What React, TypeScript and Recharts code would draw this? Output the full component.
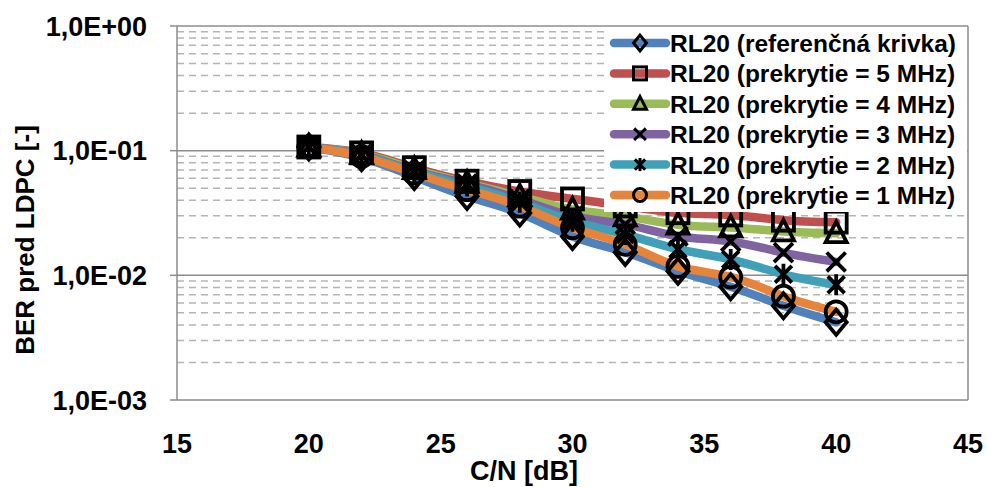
import React from 'react';
import { LineChart, Line, XAxis, YAxis, CartesianGrid } from 'recharts';

const cnValues = [20, 22, 24, 26, 28, 30, 32, 34, 36, 38, 40];
const berRef = [0.107, 0.088, 0.062, 0.043, 0.0316, 0.0205, 0.0153, 0.0108, 0.0081, 0.0057, 0.0042];
const berP5 = [0.107, 0.096, 0.073, 0.0569, 0.047, 0.041, 0.036, 0.0318, 0.0305, 0.0277, 0.0267];
const berP4 = [0.107, 0.094, 0.071, 0.055, 0.043, 0.0337, 0.0297, 0.0255, 0.0242, 0.0225, 0.0218];
const berP3 = [0.107, 0.093, 0.069, 0.054, 0.0407, 0.0298, 0.0256, 0.0206, 0.0187, 0.0152, 0.0128];
const berP2 = [0.107, 0.092, 0.068, 0.052, 0.0385, 0.0272, 0.0213, 0.0162, 0.0134, 0.0102, 0.0084];
const berP1 = [0.107, 0.09, 0.066, 0.0487, 0.0359, 0.0241, 0.0177, 0.0118, 0.0097, 0.0068, 0.0051];

const seriesNames = [
  'RL20 (referenčná krivka)',
  'RL20 (prekrytie = 5 MHz)',
  'RL20 (prekrytie = 4 MHz)',
  'RL20 (prekrytie = 3 MHz)',
  'RL20 (prekrytie = 2 MHz)',
  'RL20 (prekrytie = 1 MHz)',
];
const seriesKeys = ['ref', 'p5', 'p4', 'p3', 'p2', 'p1'];
const seriesColors = ['#4F81BD', '#C0504D', '#9BBB59', '#8064A2', '#3FA0B8', '#E5843A'];
const seriesMarkers = ['diamond', 'square', 'triangle', 'x', 'star', 'circle'];
const seriesValues = [berRef, berP5, berP4, berP3, berP2, berP1];

const xTicks = [15, 20, 25, 30, 35, 40, 45];
const yTicks = [1, 0.1, 0.01, 0.001];
const yTickLabels = ['1,0E+00', '1,0E-01', '1,0E-02', '1,0E-03'];
const majorGrid = [1, 0.1, 0.01];
const minorMultipliers = [2, 3, 4, 5, 6, 7, 8, 9];
const decades = [0.001, 0.01, 0.1];
const minorGrid = decades.flatMap((d) => minorMultipliers.map((m) => m * d));

const data = cnValues.map((x, i) => {
  const row: any = { x };
  seriesKeys.forEach((k, j) => {
    row[k] = seriesValues[j][i];
  });
  return row;
});

const FONT = '"Liberation Sans", Arial, sans-serif';

function markerShape(kind: string, cx: number, cy: number, s: number, sw: number) {
  const common = { stroke: '#000', strokeWidth: sw, fill: 'none', strokeLinejoin: 'miter' as const };
  switch (kind) {
    case 'diamond':
      return <polygon {...common} points={`${cx},${cy - s * 1.2} ${cx + s},${cy} ${cx},${cy + s * 1.2} ${cx - s},${cy}`} />;
    case 'square':
      return <rect {...common} x={cx - s} y={cy - s} width={2 * s} height={2 * s} />;
    case 'triangle':
      return <polygon {...common} points={`${cx},${cy - s * 1.1} ${cx + s},${cy + s * 0.85} ${cx - s},${cy + s * 0.85}`} />;
    case 'x':
      return (
        <g {...common}>
          <line x1={cx - s * 0.9} y1={cy - s * 0.9} x2={cx + s * 0.9} y2={cy + s * 0.9} />
          <line x1={cx - s * 0.9} y1={cy + s * 0.9} x2={cx + s * 0.9} y2={cy - s * 0.9} />
        </g>
      );
    case 'star':
      return (
        <g {...common}>
          <line x1={cx - s * 0.8} y1={cy - s * 0.8} x2={cx + s * 0.8} y2={cy + s * 0.8} />
          <line x1={cx - s * 0.8} y1={cy + s * 0.8} x2={cx + s * 0.8} y2={cy - s * 0.8} />
          <line x1={cx} y1={cy - s} x2={cx} y2={cy + s} />
        </g>
      );
    default:
      return <circle {...common} cx={cx} cy={cy} r={s} />;
  }
}

const makeDot = (kind: string) => (props: any) => {
  const { cx, cy, index } = props;
  if (cx == null || cy == null) return <g key={`${kind}-${index}`} />;
  return <g key={`${kind}-${index}`}>{markerShape(kind, cx, cy, 10.5, 3.8)}</g>;
};

const YTick = (props: any) => {
  const { x, y, payload } = props;
  const idx = yTicks.indexOf(payload.value);
  return (
    <text x={x} y={y} dy="0.36em" textAnchor="end" fill="#000" fontSize={27} fontWeight="bold" fontFamily={FONT}>
      {idx >= 0 ? yTickLabels[idx] : ''}
    </text>
  );
};

const XTick = (props: any) => {
  const { x, payload } = props;
  return (
    <text x={x} y={453} textAnchor="middle" fill="#000" fontSize={27} fontWeight="bold" fontFamily={FONT}>
      {payload.value}
    </text>
  );
};

export default function App() {
  return (
    <div style={{ position: 'absolute', left: 0, top: 0, width: 988, height: 487, background: '#fff' }}>
      <LineChart width={988} height={487} data={data} margin={{ top: 26, right: 20, bottom: 0, left: 0 }}>
        <CartesianGrid
          horizontalValues={minorGrid}
          vertical={false}
          stroke="#B5B5B5"
          strokeWidth={1.5}
          strokeDasharray="7 5"
        />
        <CartesianGrid
          horizontalValues={majorGrid}
          verticalValues={[45]}
          stroke="#8C8C8C"
          strokeWidth={1.5}
        />
        <XAxis
          type="number"
          dataKey="x"
          domain={[15, 45]}
          ticks={xTicks}
          height={87}
          tickLine={false}
          tickSize={0}
          tickMargin={0}
          axisLine={{ stroke: '#8C8C8C', strokeWidth: 1.5 }}
          tick={<XTick />}
          interval={0}
        />
        <YAxis
          type="number"
          scale="log"
          domain={[0.001, 1]}
          allowDataOverflow
          ticks={yTicks}
          width={177}
          tickSize={7}
          tickMargin={23}
          tickLine={{ stroke: '#8C8C8C', strokeWidth: 1.5 }}
          axisLine={{ stroke: '#8C8C8C', strokeWidth: 1.5 }}
          tick={<YTick />}
          interval={0}
        />
        {seriesKeys.map((k, i) => (
          <Line
            key={k}
            type="natural"
            dataKey={k}
            stroke={seriesColors[i]}
            strokeWidth={8.5}
            strokeLinecap="round"
            dot={makeDot(seriesMarkers[i])}
            activeDot={false}
            isAnimationActive={false}
          />
        ))}
      </LineChart>
      <svg
        width={988}
        height={487}
        style={{ position: 'absolute', left: 0, top: 0, pointerEvents: 'none' }}
      >
        <text
          transform="translate(34,240) rotate(-90)"
          textAnchor="middle"
          fontSize={26}
          fontWeight="bold"
          fontFamily={FONT}
          fill="#000"
        >
          BER pred LDPC [-]
        </text>
        <text x={524} y={480} textAnchor="middle" fontSize={27} fontWeight="bold" fontFamily={FONT} fill="#000">
          C/N [dB]
        </text>
        <rect x={604} y={27} width={363} height={185} fill="#fff" />
        {seriesNames.map((name, i) => {
          const cy = 43 + i * 30.4;
          return (
            <g key={name}>
              <line x1={614} y1={cy} x2={666} y2={cy} stroke={seriesColors[i]} strokeWidth={8.5} strokeLinecap="round" />
              {markerShape(seriesMarkers[i], 640, cy, 6.5, 3)}
              <text x={670} y={cy + 9} fontSize={24.5} fontWeight="bold" fontFamily={FONT} fill="#000">
                {name}
              </text>
            </g>
          );
        })}
      </svg>
    </div>
  );
}
